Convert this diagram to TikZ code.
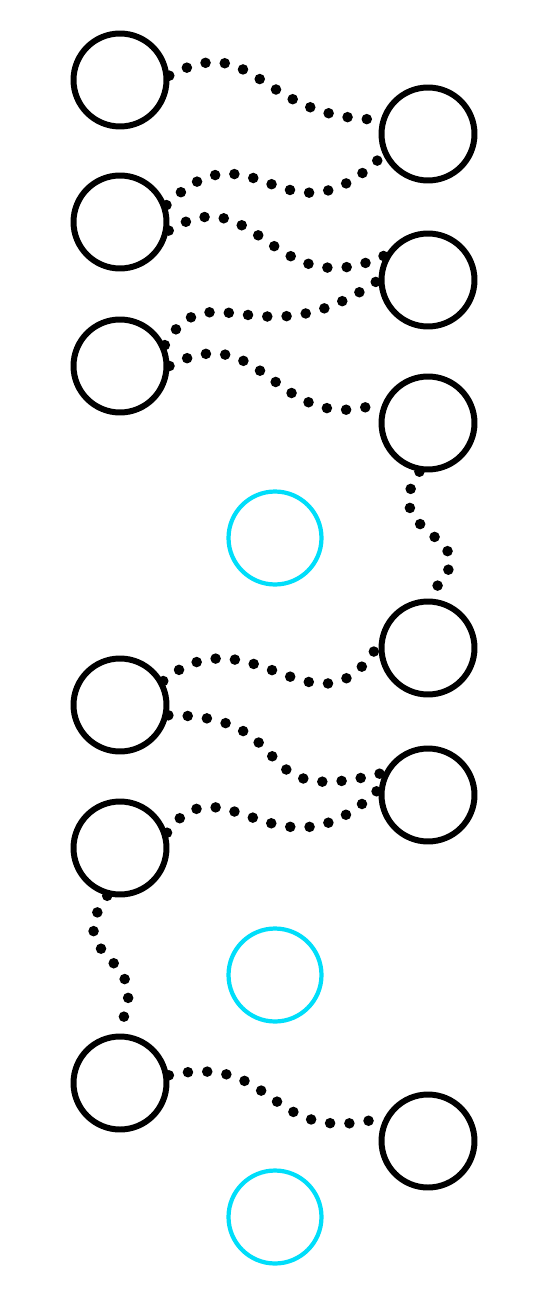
\documentclass[tikz,border=0pt]{standalone}
\usepackage{tikz}
\usetikzlibrary{positioning,calc}
\usepackage{xcolor}
\definecolor{ghostcyan}{RGB}{0,222,250}
\tikzset{
    bead/.style={circle, draw=black, fill=white, line width=3.4pt, minimum size=1.86cm, inner sep=0pt},
    ghost/.style={circle, draw=ghostcyan, fill=white, line width=2.4pt, minimum size=1.86cm, inner sep=0pt},
    link/.style={black, line width=6pt, line cap=round, dash pattern=on 0pt off 11pt},
}

\begin{document}
\begin{tikzpicture}[x=0.02cm, y=0.02cm]
    \useasboundingbox (0,0) rectangle (550,-1300);

    % Left and right columns
    \foreach \y/\name in {80/l1, 222/l2, 366/l3, 705/l4, 848/l5, 1083/l6} {
        \node[bead] (\name) at (120,-\y) {};
    }
    \foreach \y/\name in {134/r1, 280/r2, 423/r3, 648/r4, 795/r5, 1141/r6} {
        \node[bead] (\name) at (428,-\y) {};
    }

    % Empty middle sites
    \foreach \y/\name in {538/c1, 975/c2, 1217/c3} {
        \node[ghost] (\name) at (275,-\y) {};
    }

    % Dotted bonds
    \draw[link] (l1.5) .. controls +(28:100) and +(180:125) .. (r1.163);
    \draw[link] (l2.20) .. controls +(45:125) and +(225:140) .. (r1.205);
    \draw[link] (l2.-10) .. controls +(32:105) and +(205:125) .. (r2.150);
    \draw[link] (l3.25) .. controls +(60:90) and +(215:145) .. (r2.180);
    \draw[link] (l3.0) .. controls +(28:110) and +(200:115) .. (r3.155);
    \draw[link] (r3.-100) .. controls +(236:85) and +(40:105) .. (r4.95);
    \draw[link] (l4.29) .. controls +(40:115) and +(240:120) .. (r4.175);
    \draw[link] (l4.-12) .. controls +(0:140) and +(195:150) .. (r5.153);
    \draw[link] (l5.18) .. controls +(55:95) and +(225:140) .. (r5.173);
    \draw[link] (l5.-105) .. controls +(234:85) and +(60:95) .. (l6.95);
    \draw[link] (l6.9) .. controls +(12:115) and +(195:125) .. (r6.151);
\end{tikzpicture}
\end{document}
